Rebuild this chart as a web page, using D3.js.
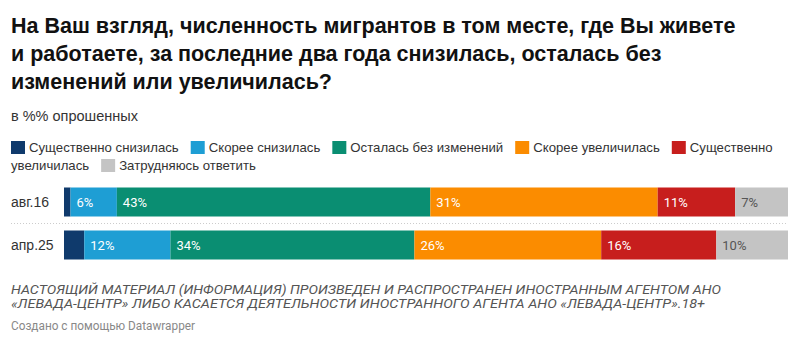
<!DOCTYPE html>
<html><head><meta charset="utf-8">
<script src="https://cdn.jsdelivr.net/npm/d3@7"></script>
<style>
html,body{margin:0;padding:0;background:#fff;}
svg{display:block;}
</style>
</head><body>
<svg id="chart" width="800" height="344"></svg>
<script>
const titleLines = ["На Ваш взгляд, численность мигрантов в том месте, где Вы живете","и работаете, за последние два года снизилась, осталась без","изменений или увеличилась?"];
const subtitle = "в %% опрошенных";
const categories = ["Существенно снизилась","Скорее снизилась","Осталась без изменений","Скорее увеличилась","Существенно увеличилась","Затрудняюсь ответить"];
const colors = ["#0f3a6c","#1e9ed4","#0a8e72","#fb8c00","#c71e1d","#c4c4c4"];
const rows = ["авг.16","апр.25"];
const valuesAug16 = [0.9, 6.4, 43.3, 31.4, 10.7, 7.3];
const valuesApr25 = [2.8, 11.9, 33.7, 25.8, 15.9, 9.9];
const labelsAug16 = ["1%","6%","43%","31%","11%","7%"];
const labelsApr25 = ["3%","12%","34%","26%","16%","10%"];
const footerLines = ["НАСТОЯЩИЙ МАТЕРИАЛ (ИНФОРМАЦИЯ) ПРОИЗВЕДЕН И РАСПРОСТРАНЕН ИНОСТРАННЫМ АГЕНТОМ АНО","«ЛЕВАДА-ЦЕНТР» ЛИБО КАСАЕТСЯ ДЕЯТЕЛЬНОСТИ ИНОСТРАННОГО АГЕНТА АНО «ЛЕВАДА-ЦЕНТР».18+"];
const credit = "Создано с помощью Datawrapper";

const svg = d3.select("#chart");
const sans = "'Liberation Sans', Arial, Helvetica, sans-serif";
const left = 11;

// Title
svg.append("g").selectAll("text").data(titleLines).join("text")
  .attr("x", left).attr("y", (d,i)=>33 + i*28)
  .attr("font-family", sans).attr("font-weight", 700).attr("font-size", 21.5)
  .attr("fill", "#111").text(d=>d);

svg.append("text").attr("x", left).attr("y", 121)
  .attr("font-family", sans).attr("font-size", 14.5).attr("fill", "#333").text(subtitle);

// Legend (flow layout with word wrap)
const legend = svg.append("g");
const legendFont = 13.2;
let lx = 11, ly = 152; const lineH = 18, maxX = 792;
const meas = svg.append("text").attr("font-family", sans).attr("font-size", legendFont).attr("visibility","hidden");
function w(t){ meas.text(t); return meas.node().getComputedTextLength(); }
const spaceW = w("a a") - w("aa");
categories.forEach((c,i)=>{
  if (lx + 15 + w(c.split(" ")[0]) > maxX) { lx = 11; ly += lineH; }
  legend.append("rect").attr("x", lx).attr("y", ly-11).attr("width", 14).attr("height", 13).attr("fill", colors[i]);
  lx += 18;
  const words = c.split(" ");
  let line = "", startX = lx;
  words.forEach((word,j)=>{
    const ww = w(word);
    if (lx + ww > maxX) {
      legend.append("text").attr("x", startX).attr("y", ly).attr("font-family", sans).attr("font-size", legendFont).attr("fill","#333").text(line.trim());
      lx = 11; ly += lineH; startX = 11; line = "";
    }
    line += word + " ";
    lx += ww + spaceW;
  });
  legend.append("text").attr("x", startX).attr("y", ly).attr("font-family", sans).attr("font-size", legendFont).attr("fill","#333").text(line.trim());
  lx += 12 - spaceW;
});
meas.remove();

// Bars
const data = [valuesAug16, valuesApr25].map((v,ri)=>{
  const o = {row: rows[ri]}; categories.forEach((c,i)=>o[c]=v[i]); return o;
});
const labelSets = [labelsAug16, labelsApr25];
const stack = d3.stack().keys(categories).offset(d3.stackOffsetExpand);
const series = stack(data);
const x = d3.scaleLinear().domain([0,1]).range([64, 788]);
const y = d3.scaleBand().domain(rows).range([187.5, 259.5]).paddingInner(14/43);

const gBars = svg.append("g");
series.forEach((s,si)=>{
  gBars.selectAll(null).data(s).join("rect")
    .attr("x", d=>x(d[0])).attr("width", d=>x(d[1])-x(d[0]))
    .attr("y", d=>y(d.data.row)).attr("height", y.bandwidth())
    .attr("fill", colors[si]);
  gBars.selectAll(null).data(s.map((d,ri)=>({d, ri}))).join("text")
    .filter(o=>x(o.d[1])-x(o.d[0]) > 28)
    .attr("x", o=>x(o.d[0]) + 6)
    .attr("y", o=>y(o.d.data.row) + y.bandwidth()/2 + 4.5)
    .attr("font-family", "Roboto, sans-serif").attr("font-size", 13)
    .attr("fill", si===5 ? "#555" : "#fff")
    .text(o=>labelSets[o.ri][si]);
});

// row labels
svg.append("g").selectAll("text").data(rows).join("text")
  .attr("x", left).attr("y", d=>y(d)+y.bandwidth()/2+5)
  .attr("font-family", sans).attr("font-size", 14).attr("fill","#333").text(d=>d);

// separator
svg.append("line").attr("x1", left).attr("x2", 788).attr("y1", 223.5).attr("y2", 223.5)
  .attr("stroke", "#ccc").attr("stroke-dasharray", "1,2");

// footer
svg.append("g").selectAll("text").data(footerLines).join("text")
  .attr("x", left).attr("y", (d,i)=>294 + i*13.5)
  .attr("font-family", "Roboto, sans-serif").attr("font-style","italic").attr("font-size", 13)
  .attr("fill", "#555")
  .attr("textLength", (d,i)=> i===0 ? 710 : 694).attr("lengthAdjust","spacingAndGlyphs")
  .text(d=>d);
svg.append("text").attr("x", left).attr("y", 330)
  .attr("font-family", "Roboto, sans-serif").attr("font-size", 12.5).attr("fill", "#888")
  .attr("textLength", 184).attr("lengthAdjust","spacingAndGlyphs").text(credit);
</script>
</body></html>
